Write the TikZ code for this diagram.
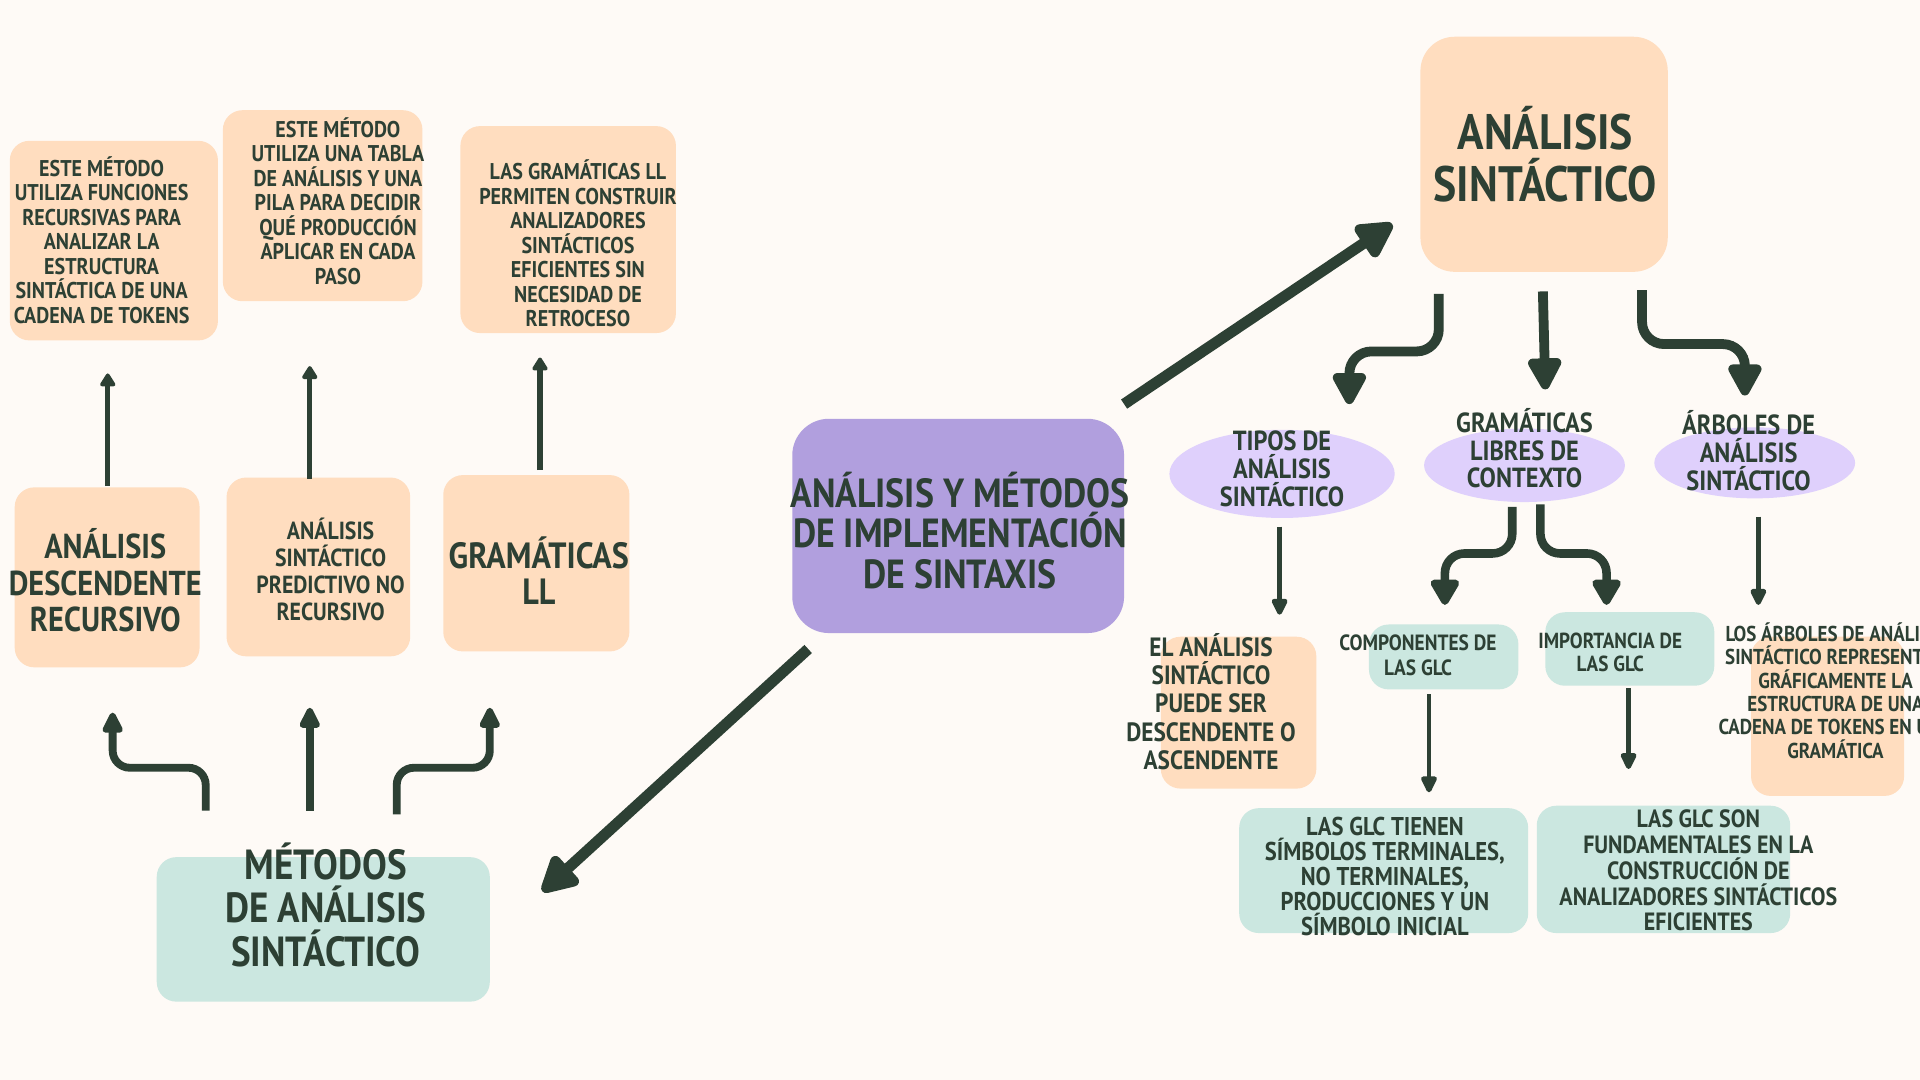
\documentclass[tikz,border=0pt]{standalone}
\usepackage{fontspec}
\setmainfont{PT Sans}[FakeStretch=0.88]
\usetikzlibrary{arrows.meta,fit,shapes.geometric,calc}
\definecolor{bg}{HTML}{FEFAF6}
\definecolor{peach}{HTML}{FFDDBF}
\definecolor{mint}{HTML}{CBE7E0}
\definecolor{violet}{HTML}{B19FDE}
\definecolor{lav}{HTML}{DFD0FC}
\definecolor{ink}{HTML}{2D4034}
\tikzset{
  box/.style={rounded corners=8pt, inner sep=0pt, draw=none},
  pbox/.style={box, fill=peach},
  tbox/.style={box, fill=mint},
  oval/.style={ellipse, fill=lav, inner sep=0pt, draw=none},
  txt/.style={text=ink, align=center, inner sep=0pt},
  fA/.style={font=\bfseries\fontsize{9.3}{10}\selectfont},
  fB1/.style={font=\bfseries\fontsize{14.1}{15}\selectfont},
  fB3/.style={font=\bfseries\fontsize{14.9}{14.5}\selectfont},
  fBm/.style={font=\bfseries\fontsize{10.1}{11}\selectfont},
  fCen/.style={font=\bfseries\fontsize{16.6}{16.5}\selectfont},
  fMet/.style={font=\bfseries\fontsize{17.2}{17.7}\selectfont},
  fTop/.style={font=\bfseries\fontsize{20.3}{21}\selectfont},
  fE/.style={font=\bfseries\fontsize{11.3}{11.3}\selectfont},
  fC2/.style={font=\bfseries\fontsize{9}{10}\selectfont},
  fC3/.style={font=\bfseries\fontsize{8.9}{9.5}\selectfont},
  fD1/.style={font=\bfseries\fontsize{10.5}{10.2}\selectfont},
  fD2/.style={font=\bfseries\fontsize{10.2}{10.5}\selectfont},
  fC1/.style={font=\bfseries\fontsize{10.8}{11.5}\selectfont},
  fC4/.style={font=\bfseries\fontsize{8.8}{9.5}\selectfont},
  thinar/.style={draw=ink, line width=2.2pt, -{Triangle[length=6pt,width=7pt,round]}},
  metar/.style={draw=ink, line width=3.2pt, rounded corners=7pt, -{Triangle[length=10pt,width=9pt,round]}},
  bigar/.style={draw=ink, line width=4.5pt, -{Triangle[length=17pt,width=17pt,round]}},
  topar/.style={draw=ink, line width=4pt, rounded corners=9pt, -{Triangle[length=15pt,width=15pt,round]}},
  midar/.style={draw=ink, line width=3.5pt, rounded corners=8pt, -{Triangle[length=12pt,width=13pt,round]}},
  rar/.style={draw=ink, line width=2pt, -{Triangle[length=8pt,width=7pt,round]}},
}
\begin{document}
\begin{tikzpicture}[x=0.5pt,y=-0.5pt]
\fill[bg] (0,0) rectangle (1568,882);
\useasboundingbox (0,0) rectangle (1568,882);

% ---------- left top row
\node[pbox, fit={(8,115) (178,278)}] (a1) {};
\node[pbox, fit={(182,90) (345,246)}] (a2) {};
\node[pbox, fit={(376,103) (552,272)}] (a3) {};
\node[txt, fA] (a1t) at (83,196) {ESTE MÉTODO\\UTILIZA FUNCIONES\\RECURSIVAS PARA\\ANALIZAR LA\\ESTRUCTURA\\SINTÁCTICA DE UNA\\CADENA DE TOKENS};
\node[txt, fA] (a2t) at (276,164) {ESTE MÉTODO\\UTILIZA UNA TABLA\\DE ANÁLISIS Y UNA\\PILA PARA DECIDIR\\QUÉ PRODUCCIÓN\\APLICAR EN CADA\\PASO};
\node[txt, fA] (a3t) at (472,199) {LAS GRAMÁTICAS LL\\PERMITEN CONSTRUIR\\ANALIZADORES\\SINTÁCTICOS\\EFICIENTES SIN\\NECESIDAD DE\\RETROCESO};

% ---------- left middle row
\node[pbox, fit={(12,398) (163,545)}] (b1) {};
\node[pbox, fit={(185,390) (335,536)}] (b2) {};
\node[pbox, fit={(362,388) (514,532)}] (b3) {};
\node[txt, fB1] (b1t) at (86,474) {ANÁLISIS\\DESCENDENTE\\RECURSIVO};
\node[txt, fBm] (b2t) at (270,465) {ANÁLISIS\\SINTÁCTICO\\PREDICTIVO NO\\RECURSIVO};
\node[txt, fB3] (b3t) at (440,466) {GRAMÁTICAS\\LL};

% ---------- metodos
\node[tbox, fit={(128,700) (400,818)}] (met) {};
\node[txt, fMet] (mett) at (266,739) {MÉTODOS\\DE ANÁLISIS\\SINTÁCTICO};

% ---------- center
\node[box, rounded corners=15pt, fill=violet, fit={(647,342) (918,517)}] (cen) {};
\node[txt, fCen] (cent) at (784,433) {ANÁLISIS Y MÉTODOS\\DE IMPLEMENTACIÓN\\DE SINTAXIS};

% ---------- top right
\node[box, rounded corners=14pt, fill=peach, fit={(1160,30) (1362,222)}] (as) {};
\node[txt, fTop] (ast) at (1262,126) {ANÁLISIS\\SINTÁCTICO};

% ---------- ellipses
\node[oval, minimum width=92pt, minimum height=36pt] (e1) at (1047,387) {};
\node[oval, minimum width=82pt, minimum height=30pt] (e2) at (1245,380) {};
\node[oval, minimum width=82pt, minimum height=29pt] (e3) at (1433,378) {};
\node[txt, fE] (e1t) at (1047,383) {TIPOS DE\\ANÁLISIS\\SINTÁCTICO};
\node[txt, fE] (e2t) at (1245,366) {GRAMÁTICAS\\LIBRES DE\\CONTEXTO};
\node[txt, fE] (e3t) at (1428,368) {ÁRBOLES DE\\ANÁLISIS\\SINTÁCTICO};

% ---------- lower right
\node[pbox, fit={(948,520) (1075,644)}] (c1) {};
\node[tbox, fit={(1118,510) (1240,563)}] (c2) {};
\node[tbox, fit={(1262,500) (1400,560)}] (c3) {};
\node[pbox, fit={(1430,520) (1555,650)}] (c4) {};
\node[txt, fC1] (c1t) at (989,573) {EL ANÁLISIS\\SINTÁCTICO\\PUEDE SER\\DESCENDENTE O\\ASCENDENTE};
\node[txt, fC2] (c2t) at (1158,535) {COMPONENTES DE\\LAS GLC};
\node[txt, fC3] (c3t) at (1315,533) {IMPORTANCIA DE\\LAS GLC};
\node[txt, fC4] (c4t) at (1499,564) {LOS ÁRBOLES DE ANÁLISIS\\SINTÁCTICO REPRESENTAN\\GRÁFICAMENTE LA\\ESTRUCTURA DE UNA\\CADENA DE TOKENS EN UNA\\GRAMÁTICA};

\node[tbox, fit={(1012,660) (1248,762)}] (d1) {};
\node[tbox, fit={(1255,658) (1462,762)}] (d2) {};
\node[txt, fD1] (d1t) at (1131,716) {LAS GLC TIENEN\\SÍMBOLOS TERMINALES,\\NO TERMINALES,\\PRODUCCIONES Y UN\\SÍMBOLO INICIAL};
\node[txt, fD2] (d2t) at (1387,711) {LAS GLC SON\\FUNDAMENTALES EN LA\\CONSTRUCCIÓN DE\\ANALIZADORES SINTÁCTICOS\\EFICIENTES};

% ---------- connectors: left
\coordinate (p1s) at (88,397);  \coordinate (p1e) at (88,305);
\coordinate (p2s) at (253,391); \coordinate (p2e) at (253,299);
\coordinate (p3s) at (441,384); \coordinate (p3e) at (441,292);
\draw[thinar] (p1s) -- (p1e);
\draw[thinar] (p2s) -- (p2e);
\draw[thinar] (p3s) -- (p3e);

\coordinate (m1s) at (168,662); \coordinate (m1e) at (92,582);
\coordinate (m2s) at (253,662); \coordinate (m2e) at (253,578);
\coordinate (m3s) at (324,665); \coordinate (m3e) at (400,578);
\draw[metar] (m1s) -- (168,627) -- (92,627) -- (m1e);
\draw[metar] (m2s) -- (m2e);
\draw[metar] (m3s) -- (324,627) -- (400,627) -- (m3e);

% ---------- diagonal
\coordinate (g1s) at (660,530); \coordinate (g1e) at (443,728);
\coordinate (g2s) at (918,330); \coordinate (g2e) at (1137,183);
\draw[bigar] (g1s) -- (g1e);
\draw[bigar] (g2s) -- (g2e);

% ---------- top right
\coordinate (t1s) at (1175,240); \coordinate (t1e) at (1102,330);
\coordinate (t2s) at (1260,238); \coordinate (t2e) at (1262,318);
\coordinate (t3s) at (1341,237); \coordinate (t3e) at (1425,323);
\draw[topar] (t1s) -- (1175,287) -- (1102,287) -- (t1e);
\draw[topar] (t2s) -- (t2e);
\draw[topar] (t3s) -- (1341,281) -- (1425,281) -- (t3e);

% ---------- from glc
\coordinate (h1s) at (1235,414); \coordinate (h1e) at (1180,494);
\coordinate (h2s) at (1258,412); \coordinate (h2e) at (1312,494);
\draw[midar] (h1s) -- (1235,452) -- (1180,452) -- (h1e);
\draw[midar] (h2s) -- (1258,452) -- (1312,452) -- (h2e);

% ---------- thin right
\coordinate (r1s) at (1045,430); \coordinate (r1e) at (1045,502);
\coordinate (r2s) at (1436,422); \coordinate (r2e) at (1436,494);
\coordinate (r3s) at (1167,567); \coordinate (r3e) at (1167,647);
\coordinate (r4s) at (1330,562); \coordinate (r4e) at (1330,628);
\draw[rar] (r1s) -- (r1e);
\draw[rar] (r2s) -- (r2e);
\draw[rar] (r3s) -- (r3e);
\draw[rar] (r4s) -- (r4e);
\end{tikzpicture}
\end{document}
